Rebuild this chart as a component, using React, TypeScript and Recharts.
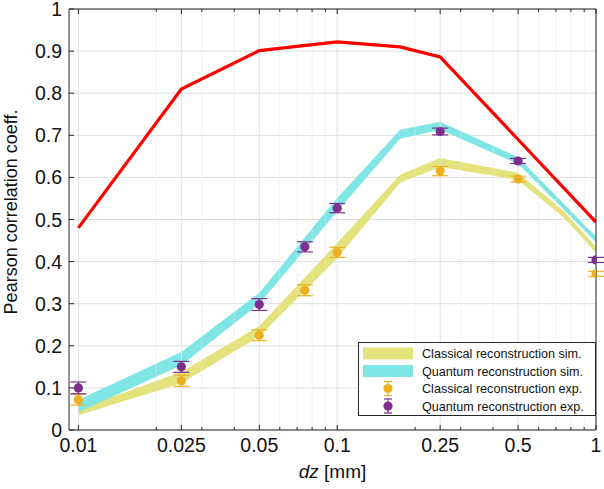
import React from "react";
import {
  ComposedChart,
  Area,
  Line,
  Scatter,
  ErrorBar,
  XAxis,
  YAxis,
  CartesianGrid,
  ReferenceLine,
  Legend,
  Label,
} from "recharts";

// simulation curves (dz in mm)
const simX = [0.01, 0.025, 0.05, 0.1, 0.175, 0.25, 0.5, 0.75, 1];
const redSim = [0.48, 0.81, 0.901, 0.922, 0.91, 0.886, 0.69, 0.575, 0.494];
const classicalSimLo = [0.035, 0.111, 0.222, 0.408, 0.587, 0.625, 0.594, 0.505, 0.421];
const classicalSimHi = [0.05, 0.138, 0.247, 0.444, 0.606, 0.646, 0.611, 0.52, 0.435];
const quantumSimLo = [0.042, 0.154, 0.3, 0.519, 0.692, 0.713, 0.632, 0.524, 0.446];
const quantumSimHi = [0.072, 0.185, 0.326, 0.551, 0.713, 0.732, 0.648, 0.538, 0.459];

// experiment points
const expX = [0.01, 0.025, 0.05, 0.075, 0.1, 0.25, 0.5, 1];
const classicalExp = [0.072, 0.117, 0.225, 0.332, 0.422, 0.615, 0.596, 0.371];
const classicalErr = [0.013, 0.013, 0.013, 0.013, 0.012, 0.011, 0.007, 0.006];
const quantumExp = [0.1, 0.15, 0.298, 0.435, 0.527, 0.709, 0.639, 0.404];
const quantumErr = [0.014, 0.013, 0.014, 0.012, 0.011, 0.008, 0.006, 0.006];

const majorX = [0.01, 0.025, 0.05, 0.1, 0.25, 0.5, 1];
const minorX = [0.02, 0.03, 0.04, 0.06, 0.07, 0.08, 0.09, 0.2, 0.3, 0.4, 0.6, 0.7, 0.8, 0.9];
const allX = [...majorX, ...minorX].sort((a, b) => a - b);
const yTicks = [0, 0.1, 0.2, 0.3, 0.4, 0.5, 0.6, 0.7, 0.8, 0.9, 1];

const W = 604;
const H = 489;
const LEFT = 69;
const RIGHT = 596;
const TOP = 9;
const BOTTOM = 430;
const X_DOMAIN: [number, number] = [0.0092, 1];

const AXIS = "#262626";
const TEXT = "#111";
const FONT = "'Liberation Sans', Arial, Helvetica, sans-serif";
const YELLOW = "#e4e27c";
const CYAN = "#80e6e5";
const RED = "#ff0000";
const ORANGE = "#edb120";
const PURPLE = "#7e2f8e";

const simData = simX.map((x, i) => ({
  x,
  red: redSim[i],
  cBand: [classicalSimLo[i], classicalSimHi[i]],
  qBand: [quantumSimLo[i], quantumSimHi[i]],
}));
const classicalData = expX.map((x, i) => ({ x, y: classicalExp[i], err: classicalErr[i] }));
const quantumData = expX.map((x, i) => ({ x, y: quantumExp[i], err: quantumErr[i] }));

const BottomTick = (props: any) => {
  const { x, payload } = props;
  const v = payload.value;
  const major = majorX.includes(v);
  return (
    <g>
      <line x1={x} x2={x} y1={BOTTOM} y2={BOTTOM - (major ? 5 : 3)} stroke={AXIS} />
      {major && (
        <text x={x} y={452} textAnchor="middle" fontSize={19.5} fontFamily={FONT} fill={TEXT}>
          {String(v)}
        </text>
      )}
    </g>
  );
};

const TopTick = (props: any) => {
  const { x, payload } = props;
  const major = majorX.includes(payload.value);
  return <line x1={x} x2={x} y1={TOP} y2={TOP + (major ? 5 : 3)} stroke={AXIS} />;
};

const LeftTick = (props: any) => {
  const { y, payload } = props;
  return (
    <g>
      <line x1={LEFT} x2={LEFT + 5} y1={y} y2={y} stroke={AXIS} />
      <text x={62} y={y} dy="0.36em" textAnchor="end" fontSize={19.5} fontFamily={FONT} fill={TEXT}>
        {String(payload.value)}
      </text>
    </g>
  );
};

const RightTick = (props: any) => {
  const { y } = props;
  return <line x1={RIGHT} x2={RIGHT - 5} y1={y} y2={y} stroke={AXIS} />;
};

const dot = (color: string) => (p: any) => <circle cx={p.cx} cy={p.cy} r={4.6} fill={color} />;

const legendRows = [
  { name: "Classical reconstruction sim.", kind: "band", color: YELLOW },
  { name: "Quantum reconstruction sim.", kind: "band", color: CYAN },
  { name: "Classical reconstruction exp.", kind: "point", color: ORANGE },
  { name: "Quantum reconstruction exp.", kind: "point", color: PURPLE },
];

const LegendBox = () => (
  <svg width={238} height={74} style={{ display: "block" }}>
    <rect x={0.5} y={0.5} width={237} height={73} fill="#fff" stroke={AXIS} />
    {legendRows.map((r, i) => {
      const cy = 11.5 + i * 17.5;
      return (
        <g key={r.name}>
          {r.kind === "band" ? (
            <rect x={5} y={cy - 6} width={50} height={12} fill={r.color} />
          ) : (
            <g stroke={r.color} strokeWidth={1.2}>
              <line x1={30} x2={30} y1={cy - 7} y2={cy + 7} />
              <line x1={26} x2={34} y1={cy - 7} y2={cy - 7} />
              <line x1={26} x2={34} y1={cy + 7} y2={cy + 7} />
              <circle cx={30} cy={cy} r={4.6} fill={r.color} stroke="none" />
            </g>
          )}
          <text x={64} y={cy} dy="0.36em" fontSize={12.6} fontFamily={FONT} fill={TEXT}>
            {r.name}
          </text>
        </g>
      );
    })}
  </svg>
);

export default function App() {
  return (
    <div style={{ position: "absolute", left: 0, top: 0, width: W, height: H, background: "#fff" }}>
      <ComposedChart width={W} height={H} margin={{ top: 0, right: 0, bottom: 0, left: 0 }}>
        <CartesianGrid stroke="#dedede" vertical={false} />
        {majorX.map((v) => (
          <ReferenceLine key={"M" + v} x={v} stroke="#e2e2e2" />
        ))}
        {minorX.map((v) => (
          <ReferenceLine key={"m" + v} x={v} stroke="#e6e6e6" strokeDasharray="1 1" />
        ))}
        <XAxis
          dataKey="x"
          type="number"
          scale="log"
          domain={X_DOMAIN}
          allowDataOverflow
          ticks={allX}
          interval={0}
          height={59}
          tickLine={false}
          axisLine={{ stroke: AXIS }}
          tick={BottomTick}
        >
          <Label
            content={() => (
              <text x={(LEFT + RIGHT) / 2} y={478} textAnchor="middle" fontSize={19} fontFamily={FONT} fill={TEXT}>
                <tspan fontStyle="italic">dz</tspan> [mm]
              </text>
            )}
          />
        </XAxis>
        <XAxis
          xAxisId="top"
          orientation="top"
          dataKey="x"
          type="number"
          scale="log"
          domain={X_DOMAIN}
          allowDataOverflow
          ticks={allX}
          interval={0}
          height={TOP}
          tickLine={false}
          axisLine={{ stroke: AXIS }}
          tick={TopTick}
        />
        <YAxis
          type="number"
          domain={[0, 1]}
          ticks={yTicks}
          interval={0}
          width={LEFT}
          tickLine={false}
          axisLine={{ stroke: AXIS }}
          tick={LeftTick}
        >
          <Label
            content={() => (
              <text
                x={17}
                y={212}
                transform="rotate(-90 17 212)"
                textAnchor="middle"
                fontSize={18}
                fontFamily={FONT}
                fill={TEXT}
              >
                Pearson correlation coeff.
              </text>
            )}
          />
        </YAxis>
        <YAxis
          yAxisId="right"
          orientation="right"
          type="number"
          domain={[0, 1]}
          ticks={yTicks}
          interval={0}
          width={W - RIGHT}
          tickLine={false}
          axisLine={{ stroke: AXIS }}
          tick={RightTick}
        />
        <Area
          data={simData}
          dataKey="cBand"
          type="linear"
          stroke="none"
          fill={YELLOW}
          fillOpacity={1}
          isAnimationActive={false}
        />
        <Area
          data={simData}
          dataKey="qBand"
          type="linear"
          stroke="none"
          fill={CYAN}
          fillOpacity={1}
          isAnimationActive={false}
        />
        <Line
          data={simData}
          dataKey="red"
          type="linear"
          stroke={RED}
          strokeWidth={3.2}
          dot={false}
          isAnimationActive={false}
        />
        <Scatter data={classicalData} dataKey="y" shape={dot(ORANGE)} isAnimationActive={false}>
          <ErrorBar dataKey="err" direction="y" width={8} stroke={ORANGE} strokeWidth={1.2} />
        </Scatter>
        <Scatter data={quantumData} dataKey="y" shape={dot(PURPLE)} isAnimationActive={false}>
          <ErrorBar dataKey="err" direction="y" width={8} stroke={PURPLE} strokeWidth={1.2} />
        </Scatter>
        <Legend
          layout="vertical"
          align="center"
          verticalAlign="middle"
          content={LegendBox}
          wrapperStyle={{ left: 358, top: 342, width: 238, height: 74, margin: 0 }}
        />
      </ComposedChart>
    </div>
  );
}
